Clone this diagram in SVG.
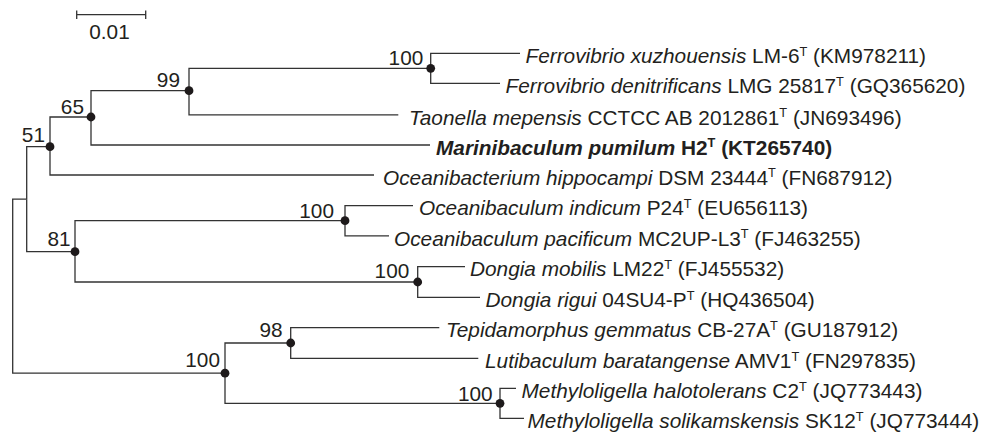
<svg xmlns="http://www.w3.org/2000/svg" width="981" height="434" viewBox="0 0 981 434">
<style>
text{font-family:"Liberation Sans",Arial,Helvetica,sans-serif;font-size:20.8px;fill:#231f20}
.i{font-style:italic}
.b{font-weight:bold}
.sup{font-size:12.8px}
.bs{font-size:20.8px;text-anchor:end}
.edge{fill:none;stroke:#333333;stroke-width:1.3}
.dot{fill:#1e1a1b}
</style>
<rect width="981" height="434" fill="#ffffff"/>
<g id="scale">
<path class="edge" d="M76.7 14.7H145.7M76.7 10.5V19M145.7 10.5V19"/>
<text x="109.5" y="39.3" text-anchor="middle">0.01</text>
</g>
<g id="connectors">
<path class="edge" d="M12.7 286V199.2H26.7"/>
<path class="edge" d="M12.7 286V373.2H225"/>
<path class="edge" d="M26.7 199.2V146.7H50"/>
<path class="edge" d="M26.7 199.2V251.7H75"/>
<path class="edge" d="M50 146.7V117H91"/>
<path class="edge" d="M50 146.7V175H374"/>
<path class="edge" d="M91 117V90.7H189"/>
<path class="edge" d="M91 117V145H430"/>
<path class="edge" d="M189 90.7V68.3H430.7"/>
<path class="edge" d="M189 90.7V114.8H398.3"/>
<path class="edge" d="M430.7 68.3V53.3H520"/>
<path class="edge" d="M430.7 68.3V83.3H500"/>
<path class="edge" d="M75 251.7V220.7H345"/>
<path class="edge" d="M75 251.7V282H417.7"/>
<path class="edge" d="M345 220.7V205.7H413"/>
<path class="edge" d="M345 220.7V235.8H389"/>
<path class="edge" d="M417.7 282V266.7H465"/>
<path class="edge" d="M417.7 282V297.3H480"/>
<path class="edge" d="M225 373.2V343H290.7"/>
<path class="edge" d="M225 373.2V403.3H500"/>
<path class="edge" d="M290.7 343V327.7H439.3"/>
<path class="edge" d="M290.7 343V358.3H478.3"/>
<path class="edge" d="M500 403.3V388.3H516"/>
<path class="edge" d="M500 403.3V418.3H524"/>
</g>
<g id="node-root"/>
<g id="node-a"/>
<g id="node-51"><circle class="dot" cx="50" cy="146.7" r="4.4"/><text class="bs" x="45" y="141.7">51</text></g>
<g id="node-65"><circle class="dot" cx="91" cy="117" r="4.4"/><text class="bs" x="84" y="114">65</text></g>
<g id="node-99"><circle class="dot" cx="189" cy="90.7" r="4.4"/><text class="bs" x="180" y="87.3">99</text></g>
<g id="node-ferrovibrio"><circle class="dot" cx="430.7" cy="68.3" r="4.4"/><text class="bs" x="423.3" y="65">100</text></g>
<g id="node-81"><circle class="dot" cx="75" cy="251.7" r="4.4"/><text class="bs" x="70.7" y="245.7">81</text></g>
<g id="node-oceanibaculum"><circle class="dot" cx="345" cy="220.7" r="4.4"/><text class="bs" x="334" y="218.3">100</text></g>
<g id="node-dongia"><circle class="dot" cx="417.7" cy="282" r="4.4"/><text class="bs" x="409.3" y="278.3">100</text></g>
<g id="node-100b"><circle class="dot" cx="225" cy="373.2" r="4.4"/><text class="bs" x="220" y="367.3">100</text></g>
<g id="node-98"><circle class="dot" cx="290.7" cy="343" r="4.4"/><text class="bs" x="282.7" y="337.3">98</text></g>
<g id="node-methyloligella"><circle class="dot" cx="500" cy="403.3" r="4.4"/><text class="bs" x="492.7" y="401">100</text></g>
<g id="tip-1"><text x="525.5" y="63"><tspan class="i">Ferrovibrio xuzhouensis</tspan> LM-6<tspan class="sup" dy="-7.5">T</tspan><tspan dy="7.5"> (KM978211)</tspan></text></g>
<g id="tip-2"><text x="505.5" y="93"><tspan class="i">Ferrovibrio denitrificans</tspan> LMG 25817<tspan class="sup" dy="-7.5">T</tspan><tspan dy="7.5"> (GQ365620)</tspan></text></g>
<g id="tip-3"><text x="409" y="124.5"><tspan class="i">Taonella mepensis</tspan> CCTCC AB 2012861<tspan class="sup" dy="-7.5">T</tspan><tspan dy="7.5"> (JN693496)</tspan></text></g>
<g id="tip-4"><text class="b" x="436" y="154.7"><tspan class="i">Marinibaculum pumilum</tspan> H2<tspan class="sup" dy="-7.5">T</tspan><tspan dy="7.5"> (KT265740)</tspan></text></g>
<g id="tip-5"><text x="383" y="184.7"><tspan class="i">Oceanibacterium hippocampi</tspan> DSM 23444<tspan class="sup" dy="-7.5">T</tspan><tspan dy="7.5"> (FN687912)</tspan></text></g>
<g id="tip-6"><text x="419" y="215.4"><tspan class="i">Oceanibaculum indicum</tspan> P24<tspan class="sup" dy="-7.5">T</tspan><tspan dy="7.5"> (EU656113)</tspan></text></g>
<g id="tip-7"><text x="394" y="245.5"><tspan class="i">Oceanibaculum pacificum</tspan> MC2UP-L3<tspan class="sup" dy="-7.5">T</tspan><tspan dy="7.5"> (FJ463255)</tspan></text></g>
<g id="tip-8"><text x="470" y="276.4"><tspan class="i">Dongia mobilis</tspan> LM22<tspan class="sup" dy="-7.5">T</tspan><tspan dy="7.5"> (FJ455532)</tspan></text></g>
<g id="tip-9"><text x="485.5" y="307"><tspan class="i">Dongia rigui</tspan> 04SU4-P<tspan class="sup" dy="-7.5">T</tspan><tspan dy="7.5"> (HQ436504)</tspan></text></g>
<g id="tip-10"><text x="446" y="337.4"><tspan class="i">Tepidamorphus gemmatus</tspan> CB-27A<tspan class="sup" dy="-7.5">T</tspan><tspan dy="7.5"> (GU187912)</tspan></text></g>
<g id="tip-11"><text x="485" y="368"><tspan class="i">Lutibaculum baratangense</tspan> AMV1<tspan class="sup" dy="-7.5">T</tspan><tspan dy="7.5"> (FN297835)</tspan></text></g>
<g id="tip-12"><text x="521.5" y="398"><tspan class="i">Methyloligella halotolerans</tspan> C2<tspan class="sup" dy="-7.5">T</tspan><tspan dy="7.5"> (JQ773443)</tspan></text></g>
<g id="tip-13"><text x="527.5" y="428"><tspan class="i">Methyloligella solikamskensis</tspan> SK12<tspan class="sup" dy="-7.5">T</tspan><tspan dy="7.5"> (JQ773444)</tspan></text></g>
</svg>
